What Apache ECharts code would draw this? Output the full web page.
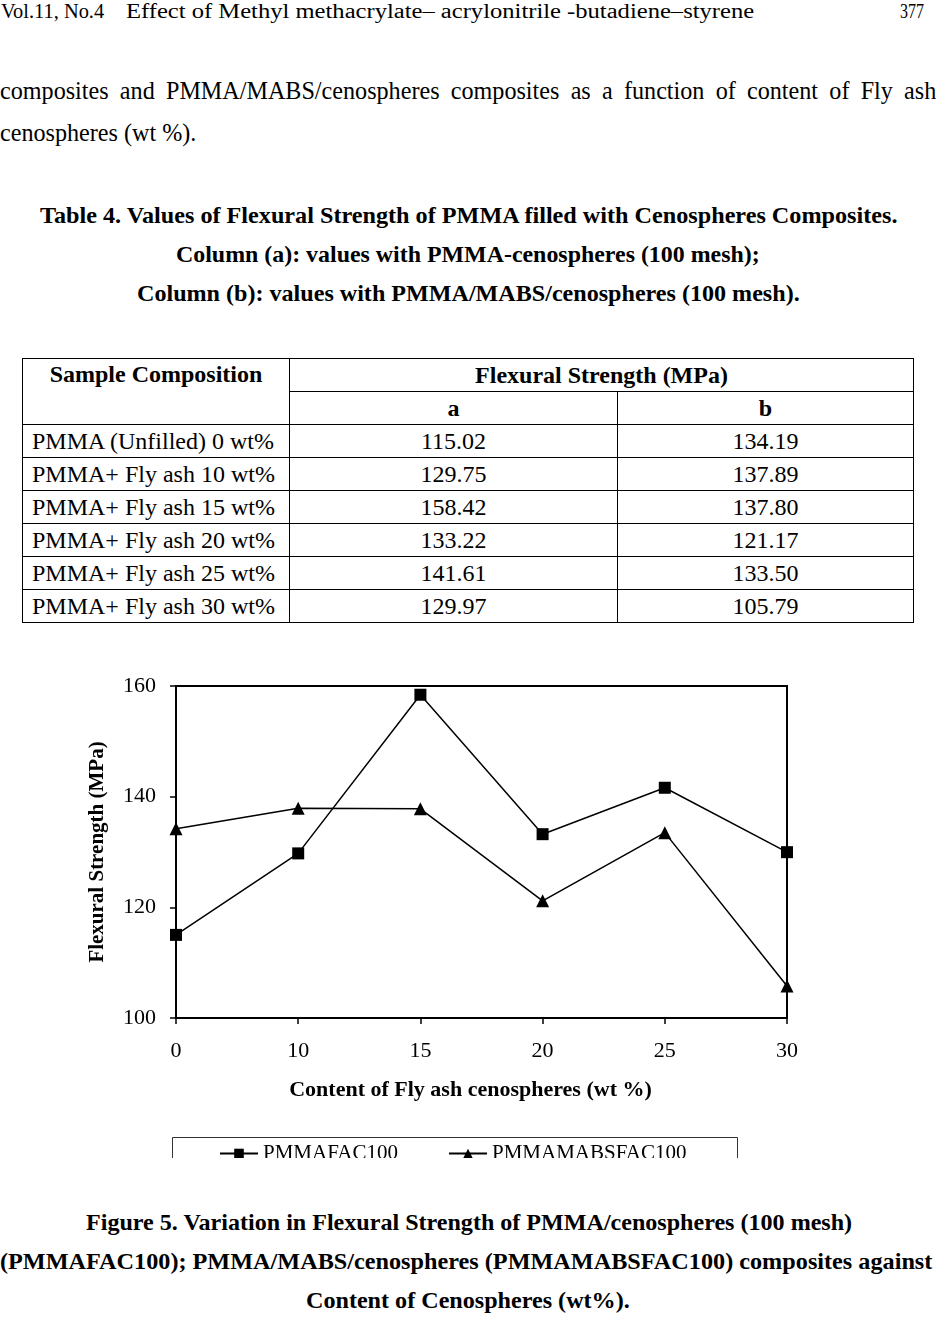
<!DOCTYPE html>
<html>
<head>
<meta charset="utf-8">
<script src="https://cdn.jsdelivr.net/npm/echarts@6/dist/echarts.min.js"></script>
<style>
  html, body { margin: 0; padding: 0; background: #fff; }
  body { width: 936px; height: 1320px; position: relative; overflow: hidden; font-family: "Liberation Serif", "Times New Roman", serif; color: #000; }
  .fit { position: absolute; white-space: nowrap; transform-origin: 0 50%; line-height: 1; }
  .b { font-weight: bold; }
  table { position: absolute; left: 22px; top: 358px; border-collapse: collapse; font-size: 24px; }
  td { border: 1px solid #000; height: 32px; padding: 0; line-height: 1; }
  #chart { position: absolute; left: 0; top: 660px; width: 936px; height: 498px; }
</style>
</head>
<body>
<div class="fit" data-l="1" data-r="104" data-y="11" style="font-size:20px">Vol.11, No.4</div>
<div class="fit" data-l="126" data-r="754" data-y="11" style="font-size:20px">Effect of Methyl methacrylate– acrylonitrile -butadiene–styrene</div>
<div class="fit" data-l="900" data-r="924" data-y="11" style="font-size:20px">377</div>

<div class="fit" id="para1" data-l="0" data-r="936" data-y="90" data-just="1" style="font-size:25px">composites and PMMA/MABS/cenospheres composites as a function of content of Fly ash</div>
<div class="fit" id="para2" data-l="0" data-r="196" data-y="132" style="font-size:25px">cenospheres (wt %).</div>

<div class="fit b" data-l="40" data-r="897" data-y="215" style="font-size:23px">Table 4. Values of Flexural Strength of PMMA filled with Cenospheres Composites.</div>
<div class="fit b" data-l="176" data-r="760" data-y="254" style="font-size:23px">Column (a): values with PMMA-cenospheres (100 mesh);</div>
<div class="fit b" data-l="137" data-r="800" data-y="293" style="font-size:23px">Column (b): values with PMMA/MABS/cenospheres (100 mesh).</div>

<table id="tbl"></table>

<div id="chart"></div>

<div class="fit b" data-l="86" data-r="852" data-y="1222" style="font-size:23px">Figure 5. Variation in Flexural Strength of PMMA/cenospheres (100 mesh)</div>
<div class="fit b" data-l="0" data-r="932" data-y="1261" style="font-size:23px">(PMMAFAC100); PMMA/MABS/cenospheres (PMMAMABSFAC100) composites against</div>
<div class="fit b" data-l="306" data-r="630" data-y="1300" style="font-size:23px">Content of Cenospheres (wt%).</div>

<script>
// ---- data ----
var contentLabels = ['0', '10', '15', '20', '25', '30'];
var sampleNames = ['PMMA (Unfilled) 0 wt%', 'PMMA+ Fly ash 10 wt%', 'PMMA+ Fly ash 15 wt%', 'PMMA+ Fly ash 20 wt%', 'PMMA+ Fly ash 25 wt%', 'PMMA+ Fly ash 30 wt%'];
var strengthA = [115.02, 129.75, 158.42, 133.22, 141.61, 129.97];
var strengthB = [134.19, 137.89, 137.80, 121.17, 133.50, 105.79];
var strengthALabels = ['115.02', '129.75', '158.42', '133.22', '141.61', '129.97'];
var strengthBLabels = ['134.19', '137.89', '137.80', '121.17', '133.50', '105.79'];
var seriesNames = ['PMMAFAC100', 'PMMAMABSFAC100'];

// ---- table ----
(function () {
  var t = document.getElementById('tbl');
  var h = '<tr><td rowspan="2" style="width:266px;vertical-align:top;text-align:center;font-weight:bold;padding-top:3px">Sample Composition</td>' +
          '<td colspan="2" style="text-align:center;font-weight:bold">Flexural Strength (MPa)</td></tr>' +
          '<tr><td style="width:327px;text-align:center;font-weight:bold">a</td><td style="width:295px;text-align:center;font-weight:bold">b</td></tr>';
  for (var i = 0; i < sampleNames.length; i++) {
    h += '<tr><td style="padding-left:9px">' + sampleNames[i] + '</td><td style="text-align:center">' + strengthALabels[i] +
         '</td><td style="text-align:center">' + strengthBLabels[i] + '</td></tr>';
  }
  t.innerHTML = h;
})();

// ---- fit text lines ----
function fitLines() {
  var els = document.querySelectorAll('.fit');
  var p2 = document.getElementById('para2');
  var bodyScale = (+p2.dataset.r - +p2.dataset.l) / p2.scrollWidth;
  els.forEach(function (el) {
    var l = +el.dataset.l, r = +el.dataset.r, y = +el.dataset.y;
    el.style.left = l + 'px';
    var w = el.scrollWidth, hgt = el.offsetHeight;
    el.style.top = (y - hgt / 2) + 'px';
    if (el.dataset.just) {
      var spaces = el.textContent.split(' ').length - 1;
      var extra = ((r - l) / bodyScale - w) / spaces;
      el.style.wordSpacing = extra + 'px';
      el.style.transform = 'scaleX(' + bodyScale + ')';
    } else {
      el.style.transform = 'scaleX(' + ((r - l) / w) + ')';
    }
  });
}
fitLines();

// ---- chart ----
var chart = echarts.init(document.getElementById('chart'), null, { renderer: 'canvas' });
var serif = 'Liberation Serif';
chart.setOption({
  backgroundColor: '#fff',
  animation: false,
  grid: { left: 176, right: 149, top: 26, bottom: 140, show: true, borderColor: '#000', borderWidth: 2, backgroundColor: 'transparent' },
  legend: {
    left: 214, top: 478,
    itemWidth: 38, itemHeight: 12, itemGap: 50,
    textStyle: { fontFamily: serif, fontSize: 21, color: '#000' },
    data: seriesNames
  },
  graphic: [{
    type: 'rect', left: 170, top: 475,
    shape: { width: 565, height: 40 },
    style: { fill: 'none', stroke: '#333', lineWidth: 1 }
  }],
  xAxis: {
    type: 'category', data: contentLabels, boundaryGap: false,
    name: 'Content of Fly ash cenospheres (wt %)', nameLocation: 'middle', nameGap: 61,
    nameTextStyle: { fontFamily: serif, fontSize: 22, fontWeight: 'bold', color: '#000', padding: [0, 22, 0, 0] },
    axisLine: { lineStyle: { color: '#000', width: 2 } },
    axisTick: { show: true, length: 6, inside: false, alignWithLabel: true, lineStyle: { color: '#000', width: 1.5 } },
    axisLabel: { fontFamily: serif, fontSize: 22, color: '#000', margin: 22 },
    splitLine: { show: false }
  },
  yAxis: {
    type: 'value', min: 100, max: 160, interval: 20,
    name: 'Flexural Strength (MPa)', nameLocation: 'middle', nameGap: 68,
    nameTextStyle: { fontFamily: serif, fontSize: 21, fontWeight: 'bold', color: '#000' },
    axisLine: { show: true, lineStyle: { color: '#000', width: 2 } },
    axisTick: { show: true, length: 6, lineStyle: { color: '#000', width: 1.5 } },
    axisLabel: { fontFamily: serif, fontSize: 22, color: '#000', margin: 20 },
    splitLine: { show: false }
  },
  series: [{
    name: seriesNames[0], type: 'line', data: strengthA,
    symbol: 'rect', symbolSize: 12,
    lineStyle: { color: '#000', width: 1.5 },
    itemStyle: { color: '#000' }
  }, {
    name: seriesNames[1], type: 'line', data: strengthB,
    symbol: 'triangle', symbolSize: 13,
    lineStyle: { color: '#000', width: 1.5 },
    itemStyle: { color: '#000' }
  }]
});
</script>
</body>
</html>
